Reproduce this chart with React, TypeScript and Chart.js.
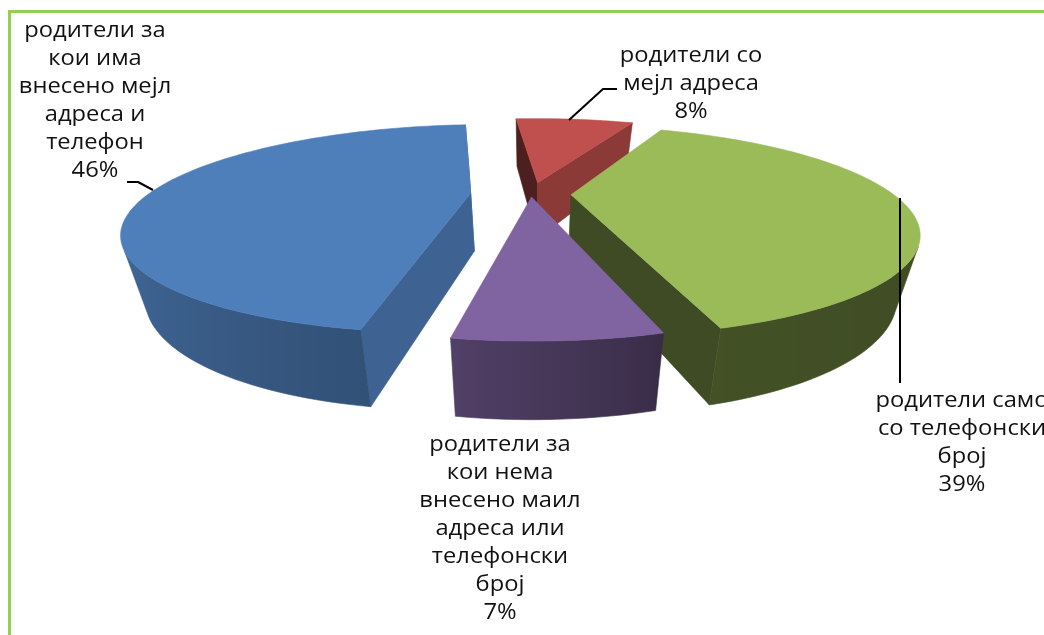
import React, { useEffect, useRef } from "react";
import { Chart, registerables } from "chart.js";

Chart.register(...registerables);

const categories = [
  "родители за кои има внесено мејл адреса и телефон",
  "родители со мејл адреса",
  "родители само со телефонски број",
  "родители за кои нема внесено маил адреса или телефонски број",
];
const values = [46, 8, 39, 7];
const percentLabels = ["46%", "8%", "39%", "7%"];
const labelLines = [
  ["родители за", "кои има", "внесено мејл", "адреса и", "телефон", "46%"],
  ["родители со", "мејл адреса", "8%"],
  ["родители само", "со телефонски", "број", "39%"],
  ["родители за", "кои нема", "внесено маил", "адреса или", "телефонски", "број", "7%"],
];
const sliceColors = ["#4F7FBB", "#C0504D", "#9BBB59", "#8064A2"];
const sliceOffsets = [94, 65, 62, 16];

// layout of the pseudo-3D view
const VIEW = { cx: 531, cy: 194, f: 350, g: 100.5, k: 0.37, rim: 0.92 };
const DEPTH = { base: 58, slope: 0.14, shrink: 0.06 };
const DRAW_ORDER = [1, 0, 2, 3];
const RADIAL_SHADE = [
  [0.78, 0.78],
  [0.4, 0.73],
  [0.4, 0.4],
  [0.6, 0.6],
];
const RIM_SHADE = [
  [0, 0.4],
  [100, 0.4],
  [164, 0.43],
  [166, 0.46],
  [190, 0.64],
  [270, 0.92],
  [360, 0.7],
];
const LABEL_POS = [
  { x: 95, y: 31, lh: 28 },
  { x: 691, y: 56, lh: 28 },
  { x: 962, y: 401, lh: 28 },
  { x: 500, y: 445, lh: 28 },
];
const LABEL_STRETCH = 1.13;
const LEADERS = [
  [[127, 182], [138, 182], [153, 190]],
  [[569, 120], [603, 89], [617, 89]],
  [[900, 198], [900, 383]],
];

type P = [number, number];

function project(u: number, v: number): P {
  const w = 1 + VIEW.k * v;
  return [VIEW.cx + (VIEW.f * u) / w, VIEW.cy - (VIEW.g * v) / w];
}
function drop(p: P): P {
  return [
    VIEW.cx + (p[0] - VIEW.cx) * (1 - DEPTH.shrink),
    p[1] + DEPTH.base + DEPTH.slope * (p[1] - VIEW.cy),
  ];
}
function shadeColor(hex: string, s: number) {
  const n = parseInt(hex.slice(1), 16);
  const c = (x: number) => Math.round(Math.min(255, x * s));
  return `rgb(${c((n >> 16) & 255)},${c((n >> 8) & 255)},${c(n & 255)})`;
}
function rimShade(deg: number) {
  const d = ((deg % 360) + 360) % 360;
  for (let i = 1; i < RIM_SHADE.length; i++) {
    const [a, sa] = RIM_SHADE[i - 1];
    const [b, sb] = RIM_SHADE[i];
    if (d <= b) return sa + ((sb - sa) * (d - a)) / (b - a);
  }
  return 0.5;
}
function area(pts: P[]) {
  let s = 0;
  pts.forEach((p, i) => {
    const q = pts[(i + 1) % pts.length];
    s += p[0] * q[1] - q[0] * p[1];
  });
  return s;
}
function fillPoly(ctx: CanvasRenderingContext2D, pts: P[], color: any) {
  ctx.beginPath();
  pts.forEach((p, i) => (i ? ctx.lineTo(p[0], p[1]) : ctx.moveTo(p[0], p[1])));
  ctx.closePath();
  ctx.fillStyle = color;
  ctx.strokeStyle = color;
  ctx.lineWidth = 0.6;
  ctx.fill();
  ctx.stroke();
}

const pie3d = {
  id: "pie3d",
  beforeDraw(chart: any) {
    const { ctx, width, height } = chart;
    ctx.save();
    ctx.fillStyle = "#ffffff";
    ctx.fillRect(0, 0, width, height);
    ctx.fillStyle = "#92D050";
    ctx.fillRect(8, 10, 3, height - 10);
    ctx.fillRect(8, 10, width - 8, 3);
    ctx.restore();
  },
  beforeDatasetsDraw(chart: any) {
    const { ctx } = chart;
    const meta = chart.getDatasetMeta(0);
    ctx.save();
    DRAW_ORDER.forEach((i) => {
      const el = meta.data[i];
      const { startAngle, endAngle, outerRadius } = el.getProps(
        ["startAngle", "endAngle", "outerRadius"],
        true
      );
      const mid = (startAngle + endAngle) / 2;
      const ex = (el.options.offset || 0) / 2 / outerRadius;
      const tipU = ex * Math.cos(mid) * VIEW.rim;
      const tipV = -ex * Math.sin(mid) * VIEW.rim;
      const at = (a: number): P =>
        project(tipU + VIEW.rim * Math.cos(a), tipV - VIEW.rim * Math.sin(a));
      const tip = project(tipU, tipV);
      const steps = Math.ceil(((endAngle - startAngle) * 180) / Math.PI / 1.5);
      const rim: P[] = [];
      const angles: number[] = [];
      for (let s = 0; s <= steps; s++) {
        const a = startAngle + ((endAngle - startAngle) * s) / steps;
        angles.push(a);
        rim.push(at(a));
      }
      const color = sliceColors[i];
      const outline: P[] = [tip, ...rim];
      const sign = Math.sign(area(outline));
      const wall = (a: P, b: P, c: string) => {
        const q: P[] = [a, b, drop(b), drop(a)];
        if (Math.sign(area(q)) !== sign) fillPoly(ctx, q, c);
      };
      wall(tip, rim[0], shadeColor(color, RADIAL_SHADE[i][0]));
      wall(rim[steps], tip, shadeColor(color, RADIAL_SHADE[i][1]));

      // the part of the outer wall that faces the viewer, with a gradient along x
      const vis: number[] = [];
      for (let s = 0; s <= steps; s++) {
        const a = s < steps ? rim[s] : rim[s - 1];
        const b = s < steps ? rim[s + 1] : rim[s];
        const q: P[] = [a, b, drop(b), drop(a)];
        if (Math.sign(area(q)) !== sign) vis.push(s);
      }
      if (vis.length > 1) {
        const top = vis.map((s) => rim[s]);
        const xs = top.map((p) => p[0]);
        const x0 = Math.min(...xs);
        const x1 = Math.max(...xs);
        const grad = ctx.createLinearGradient(x0, 0, x1, 0);
        vis.forEach((s) => {
          const t = (rim[s][0] - x0) / Math.max(1, x1 - x0);
          const deg = ((angles[s] + Math.PI / 2) * 180) / Math.PI;
          grad.addColorStop(Math.min(1, Math.max(0, t)), shadeColor(color, rimShade(deg)));
        });
        fillPoly(ctx, [...top, ...top.map(drop).reverse()], grad);
      }
      fillPoly(ctx, outline, color);
    });
    ctx.restore();
    return false;
  },
  afterDraw(chart: any) {
    const { ctx } = chart;
    ctx.save();
    ctx.strokeStyle = "#000000";
    ctx.lineWidth = 2;
    ctx.lineJoin = "round";
    LEADERS.forEach((line) => {
      ctx.beginPath();
      line.forEach((p, i) => (i ? ctx.lineTo(p[0], p[1]) : ctx.moveTo(p[0], p[1])));
      ctx.stroke();
    });
    ctx.fillStyle = "#111111";
    ctx.font = '21px "Open Sans", Lato, sans-serif';
    ctx.textAlign = "center";
    ctx.textBaseline = "middle";
    (ctx as any).filter = "blur(0.4px)";
    labelLines.forEach((lines, i) => {
      const pos = LABEL_POS[i];
      lines.forEach((t, j) => {
        ctx.save();
        ctx.translate(pos.x, pos.y + j * pos.lh);
        ctx.scale(LABEL_STRETCH, 1);
        ctx.fillText(t, 0, 0);
        ctx.restore();
      });
    });
    ctx.restore();
  },
};

export default function App() {
  const ref = useRef<HTMLCanvasElement>(null);
  useEffect(() => {
    if (!ref.current) return;
    const chart = new Chart(ref.current, {
      type: "pie",
      data: {
        labels: categories,
        datasets: [
          {
            data: values,
            backgroundColor: sliceColors,
            offset: sliceOffsets,
            borderWidth: 0,
          },
        ],
      },
      options: {
        responsive: false,
        animation: false,
        rotation: 189.5,
        radius: 250,
        layout: { padding: 0 },
        plugins: {
          legend: { display: false },
          tooltip: { enabled: false },
          title: { display: false },
        },
      },
      plugins: [pie3d],
    } as any);
    return () => chart.destroy();
  }, []);
  return (
    <div style={{ position: "fixed", left: 0, top: 0, width: 1044, height: 635, overflow: "hidden", background: "#fff" }}>
      <canvas ref={ref} width={1044} height={635} style={{ display: "block" }} aria-label={percentLabels.join(", ")} />
    </div>
  );
}
